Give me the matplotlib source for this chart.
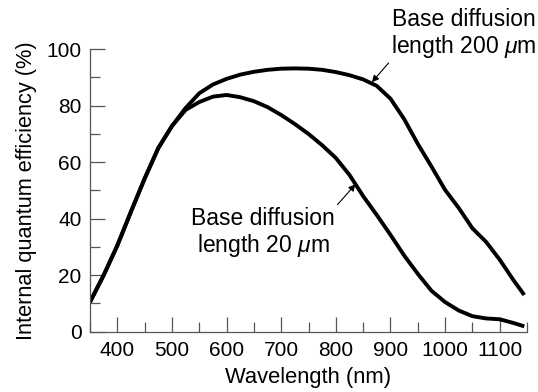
import matplotlib
matplotlib.use("Agg")
import matplotlib.pyplot as plt
from matplotlib.ticker import MultipleLocator

plt.rcParams['font.family'] = ['Liberation Sans', 'DejaVu Sans']
plt.rcParams['mathtext.fontset'] = 'custom'
plt.rcParams['mathtext.rm'] = 'Liberation Sans'
plt.rcParams['mathtext.it'] = 'Liberation Sans:italic'

# values
wl_200 = [350, 375, 400, 425, 450, 475, 500, 525, 550, 575, 600, 625, 650, 675,
          700, 725, 750, 775, 800, 825, 850, 875, 900, 925, 950, 975, 1000,
          1025, 1050, 1075, 1100, 1125, 1145]
qe_200 = [10.5, 20, 30.5, 42.5, 54.2, 65, 72.8, 79.2, 84.4, 87.5, 89.5, 91, 92,
          92.7, 93.1, 93.2, 93.1, 92.7, 91.9, 90.8, 89.3, 87, 82.5, 75.3, 66.5,
          58.5, 50.2, 43.8, 36.6, 31.8, 25.5, 18.3, 13]

wl_20 = [350, 375, 400, 425, 450, 475, 500, 525, 550, 575, 600, 625, 650, 675,
         700, 725, 750, 775, 800, 825, 850, 875, 900, 925, 950, 975, 1000,
         1025, 1050, 1075, 1100, 1125, 1145]
qe_20 = [10.5, 20, 30.5, 42.5, 54.2, 65, 72.8, 78.5, 81.3, 83.2, 83.8, 83,
         81.6, 79.5, 76.7, 73.5, 70, 66, 61.5, 55.5, 48, 41.3, 34.3, 27, 20.5,
         14.5, 10.5, 7.5, 5.5, 4.7, 4.4, 3.1, 1.9]

label_200 = "Base diffusion\nlength 200 $\\mu$m"
label_20 = "Base diffusion\nlength 20 $\\mu$m"

fig = plt.figure(figsize=(5.38, 3.92), dpi=100)
ax = fig.add_axes([0.1673, 0.1538, 0.8123, 0.7207])

for wl, qe in [(wl_200, qe_200), (wl_20, qe_20)]:
    ax.plot(wl, qe, color='black', lw=2.8, solid_capstyle='butt',
            solid_joinstyle='round')

ax.set_xlim(350, 1150)
ax.set_ylim(0, 100)
ax.xaxis.set_major_locator(MultipleLocator(100))
ax.xaxis.set_minor_locator(MultipleLocator(50))
ax.yaxis.set_major_locator(MultipleLocator(20))
ax.yaxis.set_minor_locator(MultipleLocator(10))

for s in ['top', 'right']:
    ax.spines[s].set_visible(False)
for s in ['left', 'bottom']:
    ax.spines[s].set_color('#555555')
    ax.spines[s].set_linewidth(0.9)

ax.tick_params(which='both', direction='in', color='#555555', width=0.9,
               labelsize=15, labelcolor='black')
ax.tick_params(which='major', length=11)
ax.tick_params(which='minor', length=7.5)
ax.tick_params(axis='x', pad=7)
ax.tick_params(axis='y', pad=6)

ax.set_xlabel("Wavelength (nm)", fontsize=15.8, labelpad=5)
ax.set_ylabel("Internal quantum efficiency (%)", fontsize=15.7, labelpad=7)

arrow = dict(arrowstyle='-|>', color='black', lw=0.8, shrinkA=0, shrinkB=0,
             mutation_scale=10)
ax.annotate(label_200, xy=(866, 88.3), xytext=(1034, 105.3),
            ha='center', va='center', fontsize=16.5, annotation_clip=False,
            linespacing=1.1,
            arrowprops=dict(arrow, relpos=(0.0, 0.0)))
ax.annotate(label_20, xy=(836, 52.2), xytext=(667, 34.8),
            ha='center', va='center', fontsize=16.5, linespacing=1.1,
            arrowprops=dict(arrow, relpos=(1.0, 1.0)))

fig.savefig("out.png", dpi=100)
